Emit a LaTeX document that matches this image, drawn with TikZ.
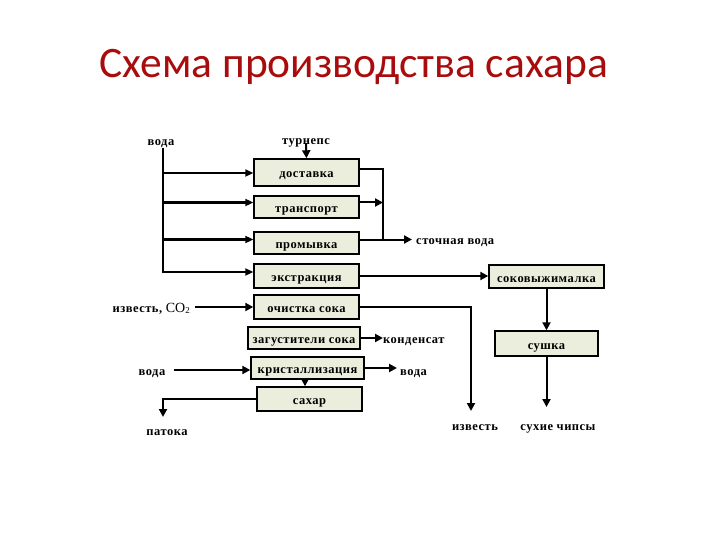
\documentclass[tikz,border=0pt]{standalone}
\usepackage{fontspec}
\setmainfont{Liberation Serif}
\newfontfamily\titlefont{Carlito}
\newfontfamily\lblfont[LetterSpace=4]{Liberation Serif}
\usetikzlibrary{arrows.meta}
\definecolor{boxfill}{HTML}{EBEEDC}
\definecolor{titlered}{HTML}{A80C0C}
\tikzset{
  box/.style={draw=black, line width=1.4pt, fill=boxfill, inner sep=0pt, text height=11pt, text depth=0pt, font=\lblfont\bfseries\fontsize{12.5}{14}\selectfont},
  lbl/.style={inner sep=0pt, text height=10pt, text depth=0pt, font=\lblfont\bfseries\fontsize{12.5}{14}\selectfont},
  ln/.style={line width=2pt},
  tip/.style={-{Triangle[length=8pt,width=8pt]}},
  arr/.style={ln, tip},
  tharr/.style={line width=2.8pt, -{Triangle[length=8pt,width=7pt]}},
}
\begin{document}
\begin{tikzpicture}[x=1pt,y=-1pt]
\useasboundingbox (0,0) rectangle (720,540);
\node[text=titlered, font=\titlefont\fontsize{43.5}{48}\selectfont, anchor=base] (title) at (354,78) {Схема производства сахара};

% boxes
\node[box, minimum width=105pt, minimum height=27pt] (d) at (306.5,172.5) {доставка};
\node[box, minimum width=105pt, minimum height=22pt] (t) at (306.5,207) {транспорт};
\node[box, minimum width=105pt, minimum height=22pt] (p) at (306.5,243) {промывка};
\node[box, minimum width=105pt, minimum height=24pt] (e) at (306.5,276) {экстракция};
\node[box, minimum width=105pt, minimum height=24pt] (o) at (306.5,307) {очистка сока};
\node[box, minimum width=112pt, minimum height=22pt] (z) at (304,338) {загустители сока};
\node[box, minimum width=113pt, minimum height=22pt] (k) at (307.5,368) {кристаллизация};
\node[box, minimum width=105pt, minimum height=24pt] (s) at (309.5,399) {сахар};
\node[box, minimum width=115pt, minimum height=23pt] (sok) at (546.5,276.5) {соковыжималка};
\node[box, minimum width=103pt, minimum height=25pt] (su) at (546.5,343.5) {сушка};

% labels
\node[lbl] (voda1) at (161,141) {вода};
\node[lbl] (turn) at (306,140) {турнепс};
\node[lbl, anchor=west] (stv) at (416,239) {сточная вода};
\node[lbl, anchor=east] (izco) at (190,307) {известь, \fontsize{14}{16}\mdseries\addfontfeature{LetterSpace=0}CO\raisebox{-0.3ex}{\fontsize{9}{10}\selectfont 2}};
\node[lbl, anchor=west] (kond) at (383,338) {конденсат};
\node[lbl] (voda2) at (152,370) {вода};
\node[lbl, anchor=west] (voda3) at (400,370) {вода};
\node[lbl] (pat) at (167,430) {патока};
\node[lbl] (izv) at (475,425) {известь};
\node[lbl] (chips) at (558,425) {сухие чипсы};

% coordinates
\coordinate (vx) at (163,148);
\coordinate (vbot) at (163,273);
\coordinate (y1) at (163,173);
\coordinate (y2) at (163,202.5);
\coordinate (y3) at (163,239.5);
\coordinate (y4) at (163,272);
\coordinate (rx) at (383,169);
\coordinate (rbot) at (383,239.5);
\coordinate (stvend) at (412,239.5);
\coordinate (ox) at (471,307);
\coordinate (oend) at (471,411);
\coordinate (suend) at (546.5,407);
\coordinate (sx) at (163,399);
\coordinate (send) at (163,417);

% left water feed
\draw[line width=2.2pt] (vx) -- (vbot);
\draw[tharr] (y1) -- (y1 -| d.west);
\draw[tharr] (y2) -- (y2 -| t.west);
\draw[tharr] (y3) -- (y3 -| p.west);
\draw[tharr] (y4) -- (y4 -| e.west);

% turnips
\draw[arr] (turn.south) ++(0,-2) -- (d.north);

% waste water
\draw[ln] (rx -| d.east) -- (rx) -- (rbot);
\draw[arr] (y2 -| t.east) -- (y2 -| rx);
\draw[arr] (stvend -| p.east) -- (stvend);

% extraction to press
\draw[arr] (e.east) -- (e.east -| sok.west);
\draw[arr] (sok.south) -- (su.north);
\draw[arr] (su.south) -- (suend);

% purification
\draw[arr] ([xshift=5pt]izco.east) -- (o.west);
\draw[arr] (o.east) -- (ox) -- (oend);

% thickening
\draw[arr] (z.east) -- (z.east -| kond.west);

% crystallization
\draw[arr] ([xshift=8pt]voda2.east) -- (voda2.east -| k.west);
\draw[arr] (k.east) -- ([xshift=-3pt]k.east -| voda3.west);
\draw[arr] ([xshift=-4.5pt]k.south -| s.north) -- ([xshift=-4.5pt]s.north);

% molasses
\draw[arr] (s.west) -- (sx) -- (send);
\end{tikzpicture}
\end{document}
